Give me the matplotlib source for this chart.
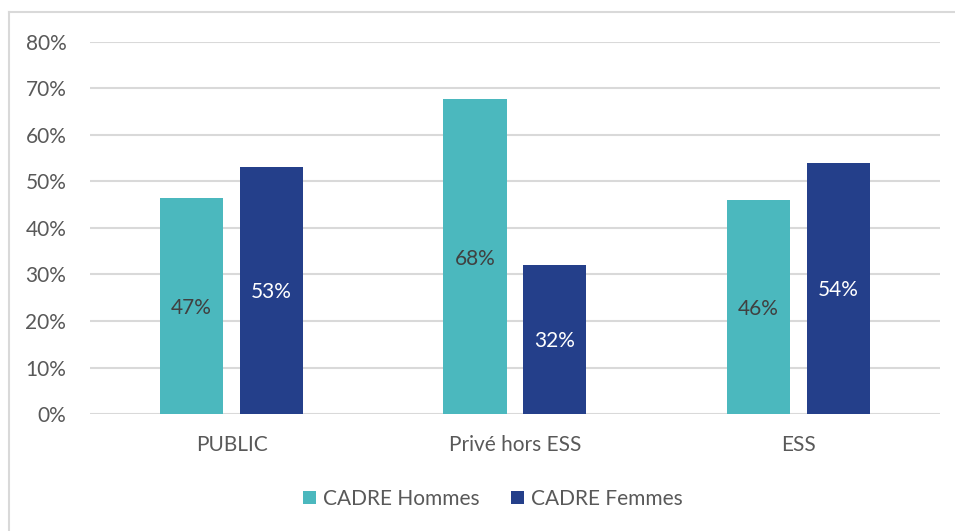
import matplotlib.pyplot as plt
import numpy as np
from matplotlib.lines import Line2D
from matplotlib.ticker import PercentFormatter

categories = ['PUBLIC', 'Privé hors ESS', 'ESS']
hommes = [0.465, 0.677, 0.461]
femmes = [0.532, 0.321, 0.540]
labels_hommes = ['47%', '68%', '46%']
labels_femmes = ['53%', '32%', '54%']

plt.rcParams['font.family'] = ['Lato', 'DejaVu Sans']

teal = '#4BB8BE'
navy = '#243F8A'
text_col = '#595959'
fs = 15

fig = plt.figure(figsize=(9.55, 5.31), dpi=100)
ax = fig.add_axes([0.0942, 0.2203, 0.8900, 0.7007])

x = np.arange(len(categories))
w = 0.223
off = 0.141
b1 = ax.bar(x - off, hommes, w, color=teal, label='CADRE Hommes', zorder=3)
b2 = ax.bar(x + off, femmes, w, color=navy, label='CADRE Femmes', zorder=3)

for bar, lab in zip(b1, labels_hommes):
    ax.text(bar.get_x() + bar.get_width() / 2, bar.get_height() / 2, lab,
            ha='center', va='center_baseline', fontsize=fs, color='#404040', zorder=4)
for bar, lab in zip(b2, labels_femmes):
    ax.text(bar.get_x() + bar.get_width() / 2, bar.get_height() / 2, lab,
            ha='center', va='center_baseline', fontsize=fs, color='white', zorder=4)

ax.set_xlim(-0.5, 2.5)
ax.set_ylim(0, 0.8)
ax.set_yticks(np.arange(0, 0.81, 0.1))
ax.yaxis.set_major_formatter(PercentFormatter(1.0, decimals=0))
ax.set_xticks(x)
ax.set_xticklabels(categories)
ax.tick_params(axis='both', length=0, labelsize=fs, labelcolor=text_col)
ax.tick_params(axis='y', pad=17)
ax.tick_params(axis='x', pad=15)
ax.grid(axis='y', color='#D9D9D9', linewidth=1.5, zorder=0)
for s in ax.spines.values():
    s.set_visible(False)

ax.legend(loc='center', bbox_to_anchor=(0.474, -0.228), ncol=2, frameon=False,
          fontsize=fs, labelcolor=text_col, handlelength=0.63, handleheight=0.63,
          handletextpad=0.35, columnspacing=1.5)

# chart frame (top and left edges visible)
fig.add_artist(Line2D([9 / 955, 9 / 955], [0, 1 - 12 / 531], color='#D9D9D9', lw=1.5))
fig.add_artist(Line2D([9 / 955, 1], [1 - 12 / 531, 1 - 12 / 531], color='#D9D9D9', lw=1.5))

fig.savefig('out.png', dpi=100)
